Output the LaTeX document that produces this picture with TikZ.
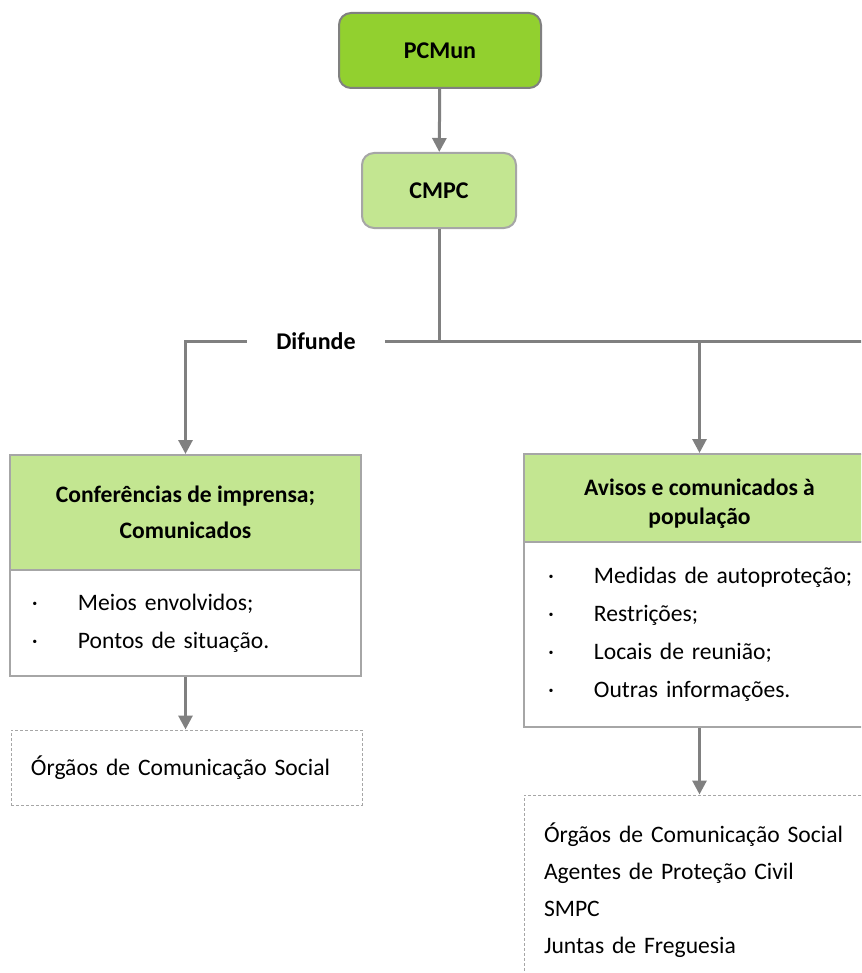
\documentclass[tikz,border=0pt]{standalone}
\usepackage{fontspec}
\setmainfont{Carlito}
\usetikzlibrary{positioning, arrows.meta}
\definecolor{verde}{RGB}{146,208,47}
\definecolor{verdeclaro}{RGB}{195,230,145}
\definecolor{cinza}{RGB}{128,128,128}
\definecolor{cinzaclaro}{RGB}{166,166,166}
\tikzset{>={Triangle[width=7pt,length=7pt]}}
\tikzset{
    entidade/.style = {rectangle, rounded corners=6pt, line width=1pt, minimum height=37.5pt,
                        font=\bfseries\fontsize{12}{14}\selectfont, align=center},
    titulo/.style = {rectangle, draw=cinzaclaro, fill=verdeclaro, line width=1pt, minimum width=175.5pt,
                        font=\bfseries\fontsize{11.8}{18}\selectfont, align=center},
    lista/.style = {rectangle, draw=cinzaclaro, fill=white, line width=1pt, text width=153.5pt,
                        inner xsep=11pt, inner ysep=0pt, font=\fontsize{11.8}{19}\selectfont, align=left},
    destino/.style = {rectangle, draw=cinzaclaro, line width=0.5pt, dash pattern=on 1.5pt off 1pt,
                        text width=155.5pt, inner xsep=10pt, inner ysep=0pt, align=left},
    seta/.style = {->, draw=cinza, line width=1.5pt},
    linha/.style = {draw=cinza, line width=1.5pt}
}
\newcommand{\marca}[1]{\mbox{\makebox[23pt][l]{·}#1}}

\begin{document}
\begin{tikzpicture}[x=0.5pt, y=-0.5pt]
			\useasboundingbox (0,0) rectangle (861,973);
			\clip (0,0) rectangle (861,973);
			% comando
			\node (pcmun) [entidade, draw=cinza, fill=verde, minimum width=101pt] at (440,50.5) {PCMun};
			\node (cmpc) [entidade, draw=cinzaclaro, fill=verdeclaro, minimum width=77pt] at (439,190.5) {CMPC};
			\node (difunde) [font=\bfseries\fontsize{12}{14}\selectfont, minimum width=69pt, inner sep=0pt] at (316,341) {Difunde};
			\coordinate (borda) at (880,341);
			% ramo da imprensa
			\node (conf) [titulo, minimum height=57.5pt] at (185.5,512.5) {Conferências de imprensa;\\ Comunicados};
			\node (confitens) [lista, minimum height=53pt] at (185.5,623)
				{\marca{Meios envolvidos;}\\ \marca{Pontos de situação.}};
			\node (ocs) [destino, minimum height=37.5pt, font=\fontsize{11.8}{19}\selectfont] at (186.5,767.5)
				{Órgãos de Comunicação Social};
			% ramo da populacao
			\node (avisos) [titulo, minimum height=44pt, font=\bfseries\fontsize{11.8}{14.5}\selectfont] at (699.5,498)
				{\rule{0pt}{14pt}Avisos e comunicados à\\ população};
			\node (avisositens) [lista, minimum height=92.5pt, text width=151.5pt, inner xsep=12pt] at (699.5,634.5)
				{\marca{Medidas de autoproteção;}\\ \marca{Restrições;}\\ \marca{Locais de reunião;}\\ \marca{Outras informações.}};
			\node (destinos) [destino, minimum height=95pt, font=\fontsize{11.8}{18.6}\selectfont] at (699.5,890)
				{Órgãos de Comunicação Social\\ Agentes de Proteção Civil\\ SMPC\\ Juntas de Freguesia};
			% ligacoes
			\draw [seta] (pcmun) -- (cmpc);
			\draw [linha] (cmpc.south) -- (cmpc.south |- borda);
			\draw [linha] (difunde.east) -- (borda);
			\draw [seta] (difunde.west) -| (conf.north);
			\draw [seta] (avisos.north |- borda) -- (avisos.north);
			\draw [seta] (confitens.south) -- (confitens.south |- ocs.north);
			\draw [seta] (avisositens.south) -- (destinos.north);
		\end{tikzpicture}
\end{document}
